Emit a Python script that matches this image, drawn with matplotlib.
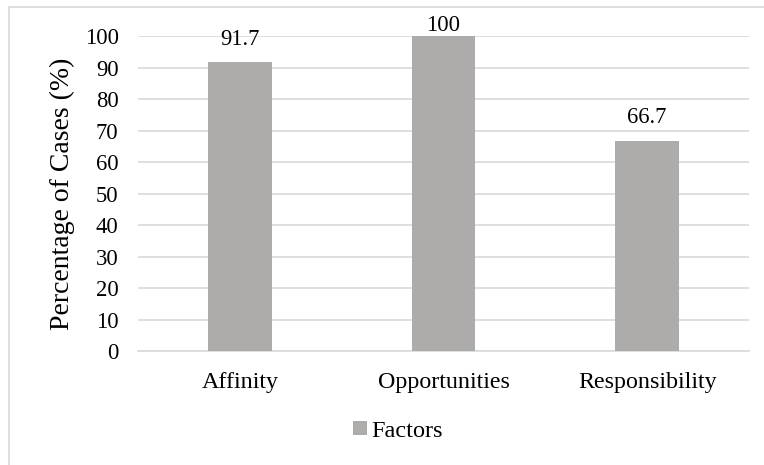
import matplotlib.pyplot as plt
from matplotlib.patches import Rectangle

categories = ["Affinity", "Opportunities", "Responsibility"]
values = [91.7, 100, 66.7]
y_ticks = list(range(0, 101, 10))

plt.rcParams["font.family"] = ["Liberation Serif", "DejaVu Serif"]

fig = plt.figure(figsize=(7.64, 4.65), dpi=100)
ax = fig.add_axes([138 / 764, 1 - 351 / 465, 611 / 764, 315 / 465])

bar_color = "#AEABAB"
grid_color = "#D9D9D9"

x = range(len(categories))
bars = ax.bar(x, values, width=0.314, color=bar_color, label="Factors", zorder=3)

y_max = 100
for bar, v in zip(bars, values):
    # labels at the top of the scale sit tight against the bar
    off = 0 if v >= y_max else 9
    ax.annotate(f"{v:g}", (bar.get_x() + bar.get_width() / 2, v),
                xytext=(0, off), textcoords="offset points",
                ha="center", va="bottom", fontsize=16.3)

ax.set_xlim(-0.5, len(categories) - 0.5)
ax.set_ylim(0, y_max)
ax.set_yticks(y_ticks)
ax.set_xticks(list(x))
ax.set_xticklabels(categories, fontsize=17.3)
ax.tick_params(axis="y", labelsize=16.3, length=0, pad=14)
ax.tick_params(axis="x", length=0, pad=15)
ax.yaxis.grid(True, color=grid_color, linewidth=1.2, zorder=0)
ax.set_axisbelow(True)
for side in ["top", "right", "left"]:
    ax.spines[side].set_visible(False)
ax.spines["bottom"].set_color(grid_color)
ax.spines["bottom"].set_linewidth(1.2)
ax.set_ylabel("Percentage of Cases (%)", fontsize=20, labelpad=7)

fig.legend(handles=[bars], labels=["Factors"], loc="center",
           bbox_to_anchor=(398 / 764, 1 - 431 / 465), frameon=False,
           fontsize=17.5, handlelength=0.55, handleheight=0.55,
           handletextpad=0.2)

# light frame around the chart area (runs off the right and bottom edges)
fig.patches.append(Rectangle((9 / 764, -0.1), 1.2, 1.1 - 7 / 465,
                             transform=fig.transFigure, fill=False,
                             edgecolor=grid_color, linewidth=1.2))

fig.savefig("out.png", dpi=100)
